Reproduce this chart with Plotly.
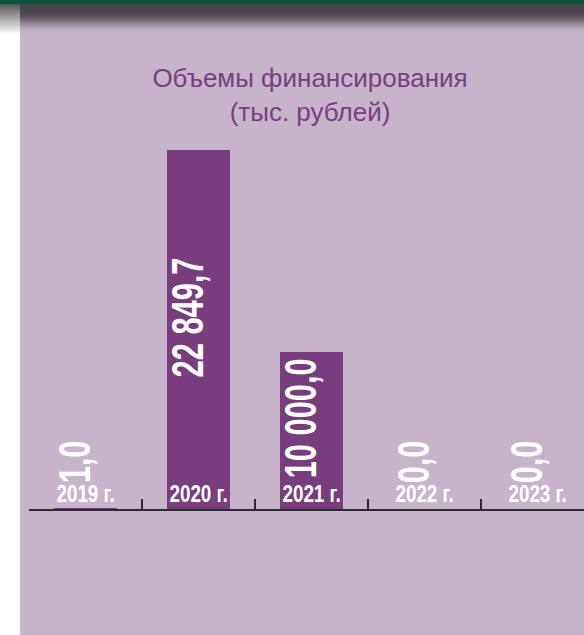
import plotly.graph_objects as go

years = ["2019 г.", "2020 г.", "2021 г.", "2022 г.", "2023 г."]
values = [1.0, 22849.7, 10000.0, 0.0, 0.0]
value_labels = ["1,0", "22 849,7", "10 000,0", "0,0", "0,0"]

W, H = 584, 635
L, R, T, B = 29, 0, 140, 126
PW, PH = W - L - R, H - T - B

def px(x):
    return (x - L) / PW

def py(y):
    return 1 - (y - T) / PH

BG = "#c7b4ca"
BAR = "#773d7c"
BOLD = "Liberation Sans, Arial, sans-serif"

fig = go.Figure()
fig.add_trace(go.Bar(x=years, y=values, marker=dict(color=BAR, line=dict(width=0)),
                     width=0.566, hoverinfo="skip"))

shapes = []
shapes.append(dict(type="rect", xref="paper", yref="paper", x0=px(0), x1=px(20), y0=py(H), y1=py(0),
                   fillcolor="white", line=dict(width=0), layer="below"))

def mix(c1, c2, t):
    a = [int(c1[i:i + 2], 16) for i in (1, 3, 5)]
    b = [int(c2[i:i + 2], 16) for i in (1, 3, 5)]
    return "#" + "".join("%02x" % round(a[k] + (b[k] - a[k]) * t) for k in range(3))

for yy in range(4, 36):
    t = 0.0 if yy < 11 else min(1.0, (yy - 11) / 22.0)
    t = t * t * (3 - 2 * t)
    shapes.append(dict(type="rect", xref="paper", yref="paper", x0=px(20), x1=px(W + 1),
                       y0=py(yy + 1), y1=py(yy), fillcolor=mix("#4b454e", BG, t),
                       line=dict(width=0), layer="below"))
    t2 = min(1.0, (yy - 4) / 30.0)
    shapes.append(dict(type="rect", xref="paper", yref="paper", x0=px(0), x1=px(20),
                       y0=py(yy + 1), y1=py(yy), fillcolor=mix("#5a5a5a", "#ffffff", t2),
                       line=dict(width=0), layer="below"))
shapes.append(dict(type="rect", xref="paper", yref="paper", x0=px(0), x1=px(W + 1), y0=py(4), y1=py(0),
                   fillcolor="#0b5339", line=dict(width=0), layer="below"))

annotations = []
for yr, v, lab in zip(years, values, value_labels):
    annotations.append(dict(x=yr, y=0, xref="x", yref="y", text=yr, showarrow=False,
                            yanchor="bottom", yshift=0,
                            font=dict(family=BOLD, size=23, color="white", weight="bold")))
    if v > 5000:
        annotations.append(dict(x=yr, y=v / 2, xref="x", yref="y", text=lab, showarrow=False,
                                textangle=-90, yanchor="middle", yshift=12, xshift=-11,
                                font=dict(family=BOLD, size=44, color="white", weight="bold")))
    else:
        annotations.append(dict(x=yr, y=0, xref="x", yref="y", text=lab, showarrow=False,
                                textangle=-90, yanchor="middle", yshift=47, xshift=-12,
                                font=dict(family=BOLD, size=44, color="white", weight="bold")))

fig.update_layout(
    width=W, height=H,
    margin=dict(l=L, r=R, t=T, b=B, pad=0),
    paper_bgcolor=BG, plot_bgcolor="rgba(0,0,0,0)",
    showlegend=False,
    title=dict(text="Объемы финансирования<br>(тыс. рублей)", x=310 / W, xanchor="center",
               y=1 - 87 / H, yanchor="middle", yref="container",
               font=dict(family="Liberation Sans, Arial, sans-serif", size=26, color="#77407f")),
    xaxis=dict(type="category", range=[-0.5, -0.5 + PW / 113.0], showgrid=False, zeroline=False,
               showline=True, linecolor="#2f2a30", linewidth=1.5, ticks="inside", ticklen=10,
               tickwidth=1.5, tickcolor="#2f2a30", tickson="boundaries", showticklabels=False,
               layer="below traces", fixedrange=True),
    yaxis=dict(range=[0, 23500], visible=False, showgrid=False, zeroline=False, fixedrange=True),
    shapes=shapes,
    annotations=annotations,
    bargap=0,
)

post = """
document.body.style.margin = '0';
document.body.style.padding = '0';
var gd = document.getElementById('{plot_id}');
function squeeze() {
  gd.querySelectorAll('text.annotation-text').forEach(function (t) {
    if (t.hasAttribute('textLength')) return;
    var fs = parseFloat(t.style.fontSize) || 20;
    var f = fs > 30 ? 0.7 : 0.82;
    var w = t.getComputedTextLength();
    t.setAttribute('textLength', (w * f).toFixed(1));
    t.setAttribute('lengthAdjust', 'spacingAndGlyphs');
  });
}
squeeze();
gd.on('plotly_afterplot', squeeze);
"""

fig.write_html("out.html", config=dict(displayModeBar=False), post_script=post)
